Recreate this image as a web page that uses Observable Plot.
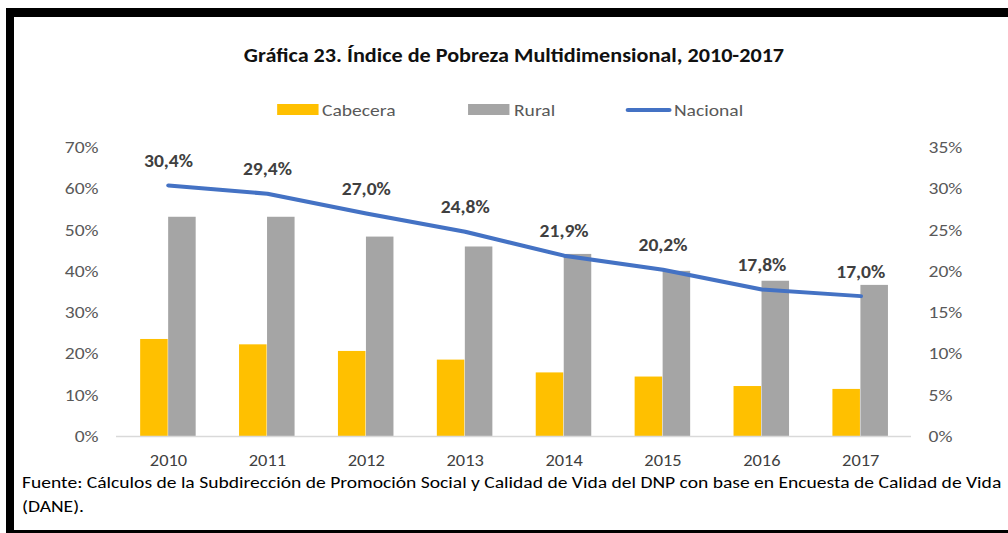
<!DOCTYPE html>
<html>
<head>
<meta charset="utf-8">
<script src="https://cdn.jsdelivr.net/npm/d3@7"></script>
<script src="https://cdn.jsdelivr.net/npm/@observablehq/plot@0.6"></script>
<style>
  html, body { margin: 0; padding: 0; background: #fff; }
  #stage { position: relative; width: 1008px; height: 533px; overflow: hidden; background: #fff; font-family: Carlito, "Liberation Sans", sans-serif; }
  .bd { position: absolute; background: #000; }
  #inner { position: absolute; left: 0; top: 0; height: 533px; transform-origin: 0 0; }
  .abs { position: absolute; white-space: nowrap; }
  #title { font-weight: bold; font-size: 19.3px; color: #111; transform: translate(-50%, -50%); }
  .lg { font-size: 17px; color: #595959; transform: translateY(-50%); }
  .sw { position: absolute; }
  #caption { font-size: 17px; color: #000; line-height: 24px; }
</style>
</head>
<body>
<div id="stage">
  <div id="inner"></div>
  <div class="bd" style="left:6px; top:8px; width:1002px; height:9px;"></div>
  <div class="bd" style="left:6px; top:8px; width:8px; height:525px;"></div>
  <div class="bd" style="left:6px; top:530px; width:1002px; height:3px;"></div>
</div>
<script>
// ---- data ----
const years = ["2010", "2011", "2012", "2013", "2014", "2015", "2016", "2017"];
const cabecera = [23.5, 22.2, 20.6, 18.5, 15.4, 14.4, 12.1, 11.4];
const rural = [53.1, 53.1, 48.3, 45.9, 44.1, 40.0, 37.6, 36.6];
const nacional = [30.4, 29.4, 27.0, 24.8, 21.9, 20.2, 17.8, 17.0];
const leftTicks = [0, 10, 20, 30, 40, 50, 60, 70];      // left axis (%)
const rightTicks = [0, 5, 10, 15, 20, 25, 30, 35];      // right axis (%)
const seriesNames = ["Cabecera", "Rural", "Nacional"];
const titleText = "Gráfica 23. Índice de Pobreza Multidimensional, 2010-2017";
const captionLines = [
  "Fuente: Cálculos de la Subdirección de Promoción Social y Calidad de Vida del DNP con base en Encuesta de Calidad de Vida",
  "(DANE)."
];

const data = years.map((y, i) => ({year: y, cab: cabecera[i], rur: rural[i], nac: nacional[i]}));
const ratio = leftTicks[leftTicks.length - 1] / rightTicks[rightTicks.length - 1];

// ---- layout (horizontal stretch like the original screenshot) ----
const S = 1.15;
const W = 1008 / S;
const inner = document.getElementById("inner");
inner.style.width = W + "px";
inner.style.transform = `scaleX(${S})`;
const X = px => px / S;

const ML = X(116), MR = X(1008 - 911);
const bw = (W - ML - MR) / years.length;
const barW = X(28);

const colors = {Cabecera: "#FFC000", Rural: "#A5A5A5", Nacional: "#4472C4"};
const fmt = v => v.toFixed(1).replace(".", ",") + "%";

const chart = Plot.plot({
  width: W,
  height: 345,
  marginTop: 17,
  marginBottom: 39,
  marginLeft: ML,
  marginRight: MR,
  style: {fontFamily: "Carlito, 'Liberation Sans', sans-serif", fontSize: "16px", color: "#595959", background: "transparent", overflow: "visible"},
  x: {domain: years, padding: 0, label: null, axis: null},
  y: {domain: [0, 70], label: null, axis: null},
  marks: [
    Plot.barY(data, {x: "year", y: "cab", fill: colors.Cabecera, insetLeft: bw / 2 - barW, insetRight: bw / 2}),
    Plot.barY(data, {x: "year", y: "rur", fill: colors.Rural, insetLeft: bw / 2, insetRight: bw / 2 - barW}),
    Plot.ruleY([0], {stroke: "#D9D9D9", strokeWidth: 1.5}),
    Plot.line(data, {x: "year", y: d => d.nac * ratio, stroke: colors.Nacional, strokeWidth: 4, strokeLinecap: "round", strokeLinejoin: "round"}),
    Plot.text(data, {x: "year", y: d => d.nac * ratio, text: d => fmt(d.nac), dy: -24, fontWeight: "bold", fontSize: 17, fill: "#404040"}),
    Plot.axisY({ticks: leftTicks, anchor: "left", tickSize: 0, tickPadding: X(18), tickFormat: d => d + "%", fontSize: 17, fill: "#595959"}),
    Plot.axisY({ticks: rightTicks.map(t => t * ratio), anchor: "right", tickSize: 0, tickPadding: X(17), tickFormat: d => (d / ratio) + "%", fontSize: 17, fill: "#595959"}),
    Plot.axisX({tickSize: 0, tickPadding: 18, fontSize: 16, fill: "#404040"})
  ]
});
chart.style.position = "absolute";
chart.style.left = "0px";
chart.style.top = "130px";
inner.appendChild(chart);

// ---- title ----
const t = document.createElement("div");
t.id = "title"; t.className = "abs";
t.textContent = titleText;
t.style.left = X(514) + "px"; t.style.top = "55px";
inner.appendChild(t);

// ---- legend ----
const legendItems = [
  {name: seriesNames[0], sx: 277, sw: 41, tx: 322, kind: "rect"},
  {name: seriesNames[1], sx: 468, sw: 42, tx: 514, kind: "rect"},
  {name: seriesNames[2], sx: 626, sw: 46, tx: 674, kind: "line"}
];
for (const it of legendItems) {
  const sw = document.createElement("div");
  sw.className = "sw";
  sw.style.left = X(it.sx) + "px";
  sw.style.width = X(it.sw) + "px";
  sw.style.background = colors[it.name];
  if (it.kind === "rect") { sw.style.top = "104px"; sw.style.height = "11px"; }
  else { sw.style.top = "108px"; sw.style.height = "4px"; sw.style.borderRadius = "2px"; }
  inner.appendChild(sw);
  const tx = document.createElement("div");
  tx.className = "abs lg";
  tx.style.left = X(it.tx) + "px"; tx.style.top = "110px";
  tx.textContent = it.name;
  inner.appendChild(tx);
}

// ---- caption ----
const c = document.createElement("div");
c.id = "caption"; c.className = "abs";
c.style.left = X(22) + "px"; c.style.top = "471px";
c.innerHTML = captionLines.map(l => l.replace(/&/g, "&amp;").replace(/</g, "&lt;")).join("<br>");
inner.appendChild(c);
</script>
</body>
</html>
